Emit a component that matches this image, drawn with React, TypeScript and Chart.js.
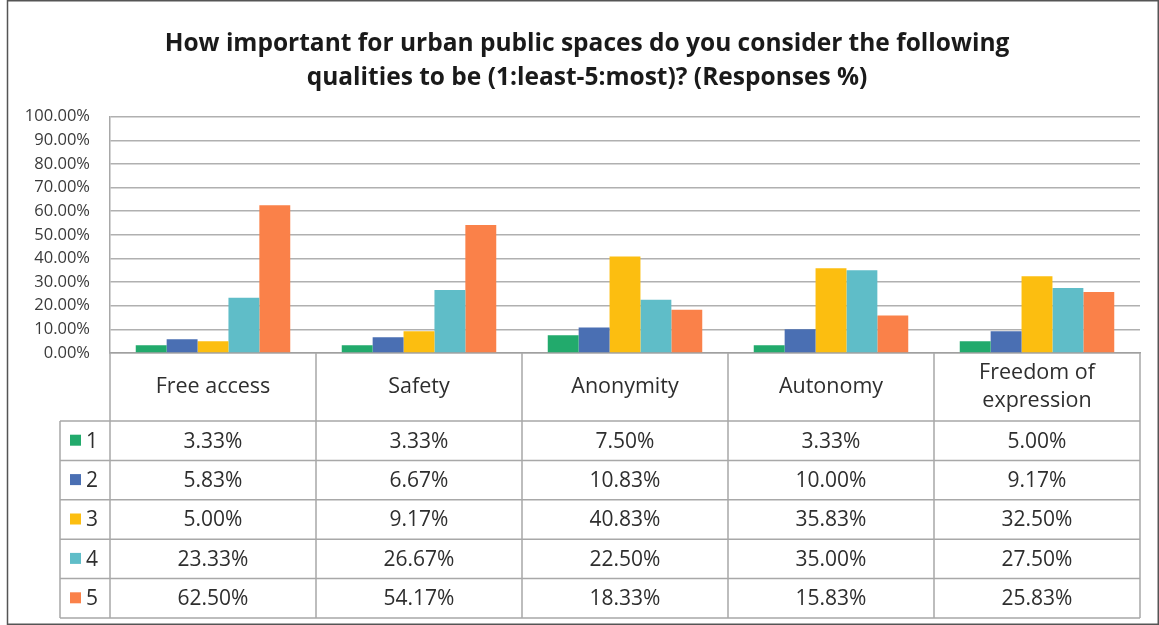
import React, { useEffect, useRef } from "react";
import { Chart, registerables } from "chart.js";

Chart.register(...registerables);

const titleLines = [
  "How important for urban public spaces do you consider the following",
  "qualities to be (1:least-5:most)? (Responses %)",
];
const categories = ["Free access", "Safety", "Anonymity", "Autonomy", "Freedom of expression"];
const seriesNames = ["1", "2", "3", "4", "5"];
const series1 = [3.33, 3.33, 7.5, 3.33, 5.0];
const series2 = [5.83, 6.67, 10.83, 10.0, 9.17];
const series3 = [5.0, 9.17, 40.83, 35.83, 32.5];
const series4 = [23.33, 26.67, 22.5, 35.0, 27.5];
const series5 = [62.5, 54.17, 18.33, 15.83, 25.83];
const seriesColors = ["#22AA6C", "#4A6FB3", "#FCBE10", "#5FBDC8", "#FA8149"];
const yTicks = [0, 10, 20, 30, 40, 50, 60, 70, 80, 90, 100];

const FONT = "'Open Sans', 'Liberation Sans', sans-serif";

const frameAndTable = {
  id: "frameAndTable",
  afterLayout(chart: any) {
    // let the y tick labels extend into the left padding without being clipped
    chart.scales.y.left = 0;
  },
  beforeDraw(chart: any) {
    const ctx = chart.ctx;
    ctx.save();
    ctx.fillStyle = "#ffffff";
    ctx.fillRect(0, 0, chart.width, chart.height);
    ctx.strokeStyle = "#555555";
    ctx.lineWidth = 1.5;
    ctx.strokeRect(7.5, 0.75, chart.width - 8.25, chart.height - 1.5);
    ctx.restore();
  },
  afterDraw(chart: any) {
    const ctx = chart.ctx;
    const area = chart.chartArea;
    const xs = chart.scales.x;
    const n = categories.length;
    const catW = (area.right - area.left) / n;
    const headerTop = area.bottom;
    const headerBottom = area.bottom + 68;
    const tableBottom = 618;
    const rowH = (tableBottom - headerBottom) / seriesNames.length;
    const legendLeft = 60;

    ctx.save();
    ctx.strokeStyle = "#A8A8A8";
    ctx.lineWidth = 1.5;
    ctx.beginPath();
    for (let i = 0; i <= n; i++) {
      const x = i < n ? xs.getPixelForValue(i) - catW / 2 : xs.getPixelForValue(n - 1) + catW / 2;
      ctx.moveTo(x, headerTop);
      ctx.lineTo(x, tableBottom);
    }
    ctx.moveTo(legendLeft, headerBottom);
    ctx.lineTo(legendLeft, tableBottom);
    for (let r = 0; r <= seriesNames.length; r++) {
      const y = headerBottom + r * rowH;
      ctx.moveTo(legendLeft, y);
      ctx.lineTo(area.right, y);
    }
    ctx.stroke();

    ctx.fillStyle = "#2e2e2e";
    ctx.textAlign = "center";
    ctx.textBaseline = "middle";
    ctx.font = `21.5px ${FONT}`;
    categories.forEach((c, i) => {
      const cx = xs.getPixelForValue(i);
      const cy = (headerTop + headerBottom) / 2;
      if (ctx.measureText(c).width > catW - 30) {
        const words = c.split(" ");
        const lines: string[] = [];
        let cur = "";
        words.forEach((w) => {
          const t = cur ? cur + " " + w : w;
          if (ctx.measureText(t).width > catW - 30 && cur) {
            lines.push(cur);
            cur = w;
          } else cur = t;
        });
        if (cur) lines.push(cur);
        const lh = 28;
        lines.forEach((l, k) => ctx.fillText(l, cx, cy + (k - (lines.length - 1) / 2) * lh));
      } else {
        ctx.fillText(c, cx, cy);
      }
    });
    ctx.font = `21px ${FONT}`;
    chart.data.datasets.forEach((ds: any, r: number) => {
      const cy = headerBottom + r * rowH + rowH / 2;
      ds.data.forEach((v: number, i: number) => {
        ctx.fillStyle = "#2e2e2e";
        ctx.textAlign = "center";
        ctx.fillText(v.toFixed(2) + "%", xs.getPixelForValue(i), cy + 1);
      });
      ctx.fillStyle = ds.backgroundColor;
      ctx.fillRect(legendLeft + 10, cy - 6, 11, 11);
      ctx.fillStyle = "#2e2e2e";
      ctx.textAlign = "left";
      ctx.fillText(ds.label, legendLeft + 26, cy + 1);
    });
    ctx.restore();
  },
};

export default function App() {
  const ref = useRef<HTMLCanvasElement>(null);
  useEffect(() => {
    document.body.style.margin = "0";
    const allSeries = [series1, series2, series3, series4, series5];
    const chart = new Chart(ref.current!, {
      type: "bar",
      data: {
        labels: categories,
        datasets: allSeries.map((d, i) => ({
          label: seriesNames[i],
          data: d,
          backgroundColor: seriesColors[i],
          borderWidth: 0,
          categoryPercentage: 0.75,
          barPercentage: 1.0,
        })),
      },
      options: {
        animation: false,
        responsive: false,
        layout: { padding: { left: 34, right: 19, top: 0, bottom: 272 } },
        plugins: {
          legend: { display: false },
          tooltip: { enabled: false },
          title: {
            display: true,
            text: titleLines,
            color: "#1a1a1a",
            font: { family: FONT, size: 24.5, weight: "bold", lineHeight: 1.38 },
            padding: { top: 27, bottom: 22 },
          },
        },
        scales: {
          x: {
            ticks: { display: false },
            grid: { display: false, drawTicks: false },
            border: { display: true, color: "#A0A0A0", width: 1.5 },
            afterFit: (s: any) => {
              s.height = 0;
            },
          },
          y: {
            min: 0,
            max: 100,
            afterBuildTicks: (s: any) => {
              s.ticks = yTicks.map((v) => ({ value: v }));
            },
            ticks: {
              padding: 20,
              color: "#3a3a3a",
              font: { family: FONT, size: 16.5 },
              callback: (v: any) => Number(v).toFixed(2) + "%",
            },
            grid: { color: "#B0B0B0", lineWidth: 1.5, drawTicks: false },
            border: { display: true, color: "#A8A8A8", width: 1.5 },
            afterFit: (s: any) => {
              s.width = 76;
            },
          },
        },
      },
      plugins: [frameAndTable],
    });
    return () => chart.destroy();
  }, []);
  return (
    <div style={{ width: 1159, height: 625, background: "#fff" }}>
      <canvas ref={ref} width={1159} height={625} style={{ display: "block" }} />
    </div>
  );
}
